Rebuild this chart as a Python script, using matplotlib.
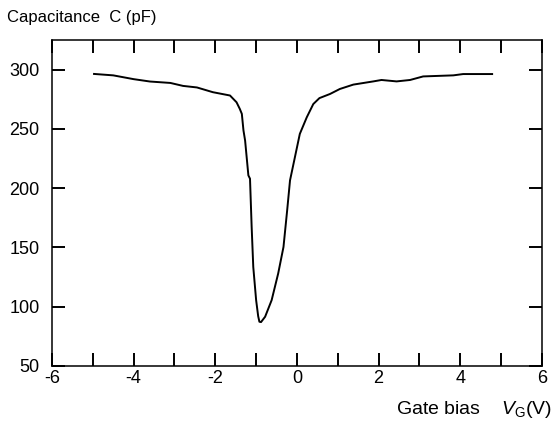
import matplotlib
matplotlib.use('Agg')
import matplotlib.pyplot as plt
from matplotlib.ticker import MultipleLocator

plt.rcParams['font.family'] = ['Liberation Sans', 'DejaVu Sans']
plt.rcParams['axes.unicode_minus'] = False
plt.rcParams['mathtext.fontset'] = 'custom'
plt.rcParams['mathtext.rm'] = 'Liberation Sans'
plt.rcParams['mathtext.it'] = 'Liberation Sans:italic'

# gate bias (V) and capacitance (pF)
vg = [-4.97, -4.5, -4.0, -3.6, -3.1, -2.79, -2.45, -2.06, -1.64, -1.48, -1.40,
      -1.35, -1.31, -1.27, -1.19, -1.15, -1.11, -1.07, -1.0, -0.95, -0.92, -0.88,
      -0.78, -0.62, -0.46, -0.33, -0.24, -0.17, -0.05, 0.07, 0.24, 0.40, 0.55,
      0.81, 1.05, 1.38, 1.87, 2.07, 2.44, 2.77, 3.09, 3.83, 4.07, 4.78]
cap = [296.4, 295.2, 292, 290, 288.8, 286.3, 285, 281, 278.2, 272.5, 266.9,
       262.7, 248.7, 240.2, 210.8, 208, 167.6, 133.5, 105.5, 92, 87.3, 87,
       91.5, 105.5, 128, 150.4, 181.3, 206.6, 226.2, 245.8, 259.8, 271, 276,
       279.5, 283.7, 287.4, 290.1, 291.3, 290.1, 291.3, 294.3, 295.2, 296.3, 296.3]

fig = plt.figure(figsize=(5.53, 4.26), dpi=100)
ax = fig.add_axes([0.094, 0.141, 0.886, 0.765])

ax.plot(vg, cap, color='black', linewidth=1.4)

ax.set_xlim(-6, 6)
ax.set_ylim(50, 325)
ax.xaxis.set_major_locator(MultipleLocator(2))
ax.xaxis.set_minor_locator(MultipleLocator(1))
ax.set_yticks([50, 100, 150, 200, 250, 300])

ax.tick_params(axis='both', which='both', direction='in', length=9.4, width=1.4,
               top=True, right=True, labelsize=13)
ax.tick_params(axis='x', which='major', pad=3)
ax.tick_params(axis='y', which='major', pad=9)
for s in ax.spines.values():
    s.set_linewidth(1.1)

fig.text(0.013, 0.958, 'Capacitance  C (pF)', fontsize=12, ha='left', va='center')
fig.text(0.998, 0.038, 'Gate bias    $V_{\\mathrm{G}}$(V)', fontsize=14, ha='right', va='center')

fig.savefig('out.png', dpi=100)
